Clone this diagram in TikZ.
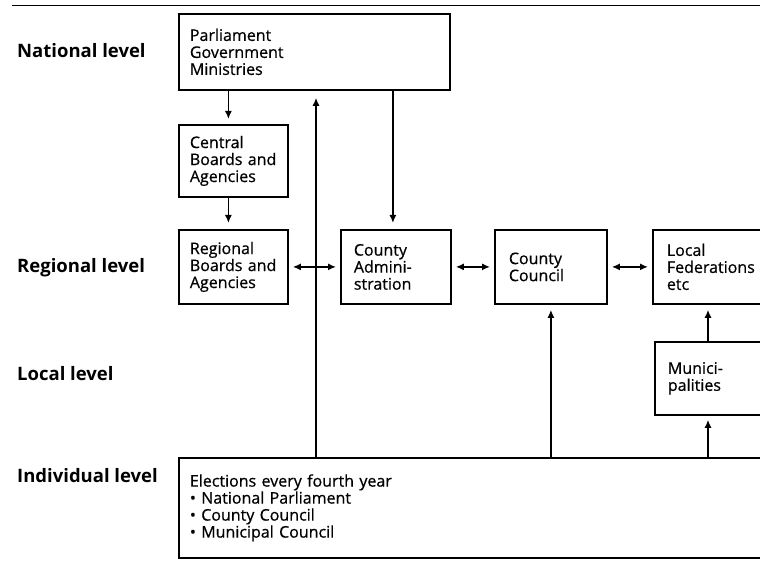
\documentclass[tikz,border=0pt]{standalone}
\usepackage{fontspec}
\setmainfont{Open Sans}
\newfontfamily\boxfont{Open Sans}[FakeBold=0.6]
\usetikzlibrary{arrows.meta}
\begin{document}
\begin{tikzpicture}[x=1pt,y=-1pt,
  box/.style={draw, line width=1.8pt, anchor=north west, align=left, inner xsep=11pt, inner ysep=0pt,
    font=\boxfont\fontsize{16}{17}\selectfont},
  lvl/.style={anchor=west, inner sep=0pt, font=\fontsize{18.5}{20}\selectfont\bfseries},
  arr/.style={line width=1.5pt, -{Latex[length=8pt,width=7pt]}},
  darr/.style={line width=1.5pt, {Latex[length=8pt,width=7pt]}-{Latex[length=8pt,width=7pt]}, shorten <=4pt, shorten >=4pt}]
\useasboundingbox (0,0) rectangle (760,569);
\clip (0,0) rectangle (760,569);
\fill[white] (0,0) rectangle (760,569);
\coordinate (tl) at (12,5);
\coordinate (tr) at (760,5);
\draw[line width=0.8pt] (tl) -- (tr);

\node[lvl] (lnat) at (17,51) {National level};
\node[lvl] (lreg) at (17,268) {Regional level};
\node[lvl] (lloc) at (17,374) {Local level};
\node[lvl] (lind) at (17,476) {Individual level};

\node[box, minimum width=271pt, minimum height=76pt, text width=249pt] (nat) at (178,13) {Parliament\\Government\\Ministries\\[10pt]};
\node[box, minimum width=109pt, minimum height=72pt, text width=87pt] (cen) at (178,124) {Central\\Boards~and\\Agencies};
\node[box, minimum width=109pt, minimum height=74pt, text width=87pt] (reg) at (178,229) {Regional\\Boards~and\\Agencies};
\node[box, minimum width=110pt, minimum height=74pt, text width=84pt, inner xsep=13pt] (cadm) at (340,229) {County\\Admini-\\stration};
\node[box, minimum width=112pt, minimum height=74pt, text width=84pt, inner xsep=14pt] (ccou) at (494,229) {County\\Council};
\node[box, minimum width=140pt, minimum height=74pt, text width=112pt, inner xsep=14pt] (lfed) at (652,229) {Local\\Federations\\etc};
\node[box, minimum width=140pt, minimum height=73pt, text width=114pt, inner xsep=13pt] (muni) at (654,341) {Munici-\\palities};
\node[box, minimum width=620pt, minimum height=100pt, text width=598pt] (ind) at (178,457) {Elections every fourth year\\\textbullet\ National Parliament\\\textbullet\ County Council\\\textbullet\ Municipal Council\\[2pt]};

\draw[arr, shorten >=5pt] (nat.south -| cen.center) ++(-5,0) coordinate (a1) -- (a1 |- cen.north);
\draw[arr, shorten >=6pt] (cen.south) ++(-5,0) coordinate (a2) -- (a2 |- reg.north);
\draw[arr, shorten >=6pt] (nat.south -| cadm.center) ++(-3,0) coordinate (a3) -- (a3 |- cadm.north);
\draw[arr, shorten >=7pt] (ind.north -| 316,0) coordinate (a4) -- (a4 |- nat.south);
\draw[darr] (reg.east) -- (cadm.west);
\draw[darr] (cadm.east) -- (ccou.west);
\draw[darr] (ccou.east) -- (lfed.west);
\draw[arr, shorten >=5pt] (ind.north -| ccou.center) coordinate (a5) -- (a5 |- ccou.south);
\draw[arr, shorten >=5pt] (muni.north -| 708,0) coordinate (a6) -- (a6 |- lfed.south);
\draw[arr, shorten >=4pt] (ind.north -| 708,0) coordinate (a7) -- (a7 |- muni.south);
\end{tikzpicture}
\end{document}
